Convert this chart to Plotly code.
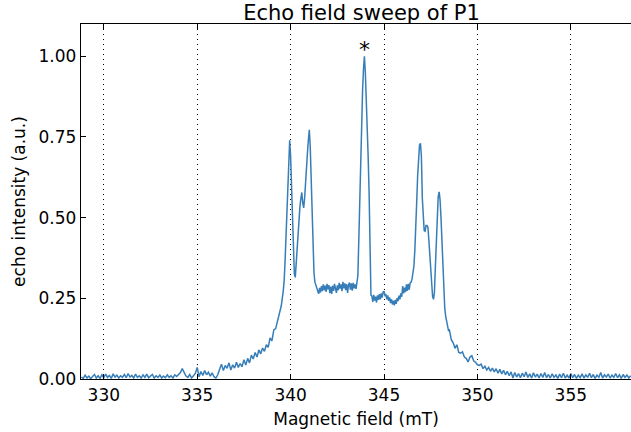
import plotly.graph_objects as go

# ---- data ----
field_mT = [
    328.8, 328.9, 329.0, 329.1, 329.2, 329.3, 329.4, 329.5, 329.6, 329.7,
    329.8, 329.9, 330.0, 330.1, 330.2, 330.3, 330.4, 330.5, 330.6, 330.7,
    330.8, 330.9, 331.0, 331.1, 331.2, 331.3, 331.4, 331.5, 331.6, 331.7,
    331.8, 331.9, 332.0, 332.1, 332.2, 332.3, 332.4, 332.5, 332.6, 332.7,
    332.8, 332.9, 333.0, 333.1, 333.2, 333.3, 333.4, 333.5, 333.6, 333.7,
    333.8, 333.9, 334.0, 334.1, 334.2, 334.3, 334.4, 334.5, 334.6, 334.7,
    334.8, 334.9, 335.0, 335.1, 335.2, 335.3, 335.4, 335.5, 335.6, 335.7,
    335.8, 335.9, 336.0, 336.1,
    336.2, 336.3, 336.4, 336.5, 336.6, 336.7, 336.8, 336.9, 337.0, 337.1,
    337.2, 337.3, 337.4, 337.5, 337.6, 337.7, 337.8, 337.9, 338.0, 338.1,
    338.2, 338.3, 338.4, 338.5, 338.6, 338.7, 338.8, 338.9, 339.0, 339.1,
    339.2, 339.3, 339.4, 339.5, 339.6,
    339.65, 339.7, 339.75, 339.8, 339.85, 339.9, 339.95, 340.0, 340.05, 340.1,
    340.15, 340.2, 340.25, 340.3, 340.35, 340.4, 340.45, 340.5, 340.55, 340.6,
    340.65, 340.7, 340.75, 340.8, 340.85, 340.9, 340.95, 341.0, 341.05, 341.1,
    341.15, 341.2, 341.25, 341.3,
    341.35, 341.4, 341.45, 341.5, 341.55, 341.6, 341.65, 341.7, 341.75, 341.8,
    341.85, 341.9, 341.95, 342.0, 342.05, 342.1, 342.15, 342.2, 342.25, 342.3,
    342.35, 342.4, 342.45, 342.5, 342.55, 342.6, 342.65, 342.7, 342.75, 342.8,
    342.85, 342.9, 342.95, 343.0, 343.05, 343.1, 343.15, 343.2, 343.25, 343.3,
    343.35, 343.4, 343.45, 343.5, 343.55,
    343.6, 343.65, 343.7, 343.75, 343.8, 343.85, 343.9, 343.95, 344.0, 344.05,
    344.1, 344.15, 344.2, 344.25, 344.3,
    344.35, 344.4, 344.45, 344.5, 344.55, 344.6, 344.65, 344.7, 344.75, 344.8,
    344.85, 344.9, 344.95, 345.0, 345.05, 345.1, 345.15, 345.2, 345.25, 345.3,
    345.35, 345.4, 345.45, 345.5, 345.55, 345.6, 345.65, 345.7, 345.75, 345.8,
    345.85, 345.9, 345.95, 346.0, 346.05, 346.1, 346.15, 346.2, 346.25, 346.3,
    346.35, 346.4, 346.45,
    346.5, 346.55, 346.6, 346.65, 346.7, 346.75, 346.8, 346.85, 346.9, 346.95,
    347.0, 347.05, 347.1, 347.15, 347.2, 347.25, 347.3, 347.35, 347.4, 347.45,
    347.5, 347.55, 347.6, 347.65, 347.7, 347.75, 347.8, 347.85, 347.9, 347.95,
    348.0, 348.05, 348.1, 348.15, 348.2, 348.25, 348.3, 348.35, 348.4, 348.45,
    348.5, 348.6, 348.7, 348.8, 348.9, 349.0, 349.1, 349.2, 349.3, 349.4,
    349.5, 349.6, 349.7, 349.8, 349.9, 350.0, 350.1, 350.2, 350.3, 350.4,
    350.5, 350.6, 350.7, 350.8, 350.9, 351.0, 351.1, 351.2, 351.3, 351.4,
    351.5, 351.6, 351.7, 351.8, 351.9, 352.0, 352.1, 352.2, 352.3, 352.4,
    352.5, 352.6, 352.7, 352.8, 352.9, 353.0, 353.1, 353.2, 353.3, 353.4,
    353.5, 353.6, 353.7, 353.8, 353.9, 354.0, 354.1, 354.2, 354.3, 354.4,
    354.5, 354.6, 354.7, 354.8, 354.9, 355.0, 355.1, 355.2, 355.3, 355.4,
    355.5, 355.6, 355.7, 355.8, 355.9, 356.0, 356.1, 356.2, 356.3, 356.4,
    356.5, 356.6, 356.7, 356.8, 356.9, 357.0, 357.1, 357.2, 357.3, 357.4,
    357.5, 357.6, 357.7, 357.8, 357.9, 358.0, 358.1, 358.2,
]

intensity = [
    0.006, 0.002, 0.012, 0.003, 0.009, 0.001, 0.008, 0.014, 0.003, 0.010,
    0.002, 0.013, 0.004, 0.015, 0.005, 0.011, 0.002, 0.016, 0.006, 0.012,
    0.003, 0.010, 0.005, 0.014, 0.004, 0.017, 0.006, 0.011, 0.003, 0.015,
    0.005, 0.010, 0.003, 0.013, 0.005, 0.015, 0.004, 0.009, 0.014, 0.003,
    0.010, 0.005, 0.012, 0.003, 0.009, 0.004, 0.013, 0.005, 0.010, 0.003,
    0.013, 0.008, 0.015, 0.020, 0.032, 0.018, 0.009, 0.005, 0.014, 0.003,
    0.010, 0.017, 0.036, 0.007, 0.023, 0.011, 0.026, 0.013, 0.021, 0.009,
    0.019, 0.007, 0.003, 0.013,
    0.030, 0.046, 0.026, 0.042, 0.033, 0.050, 0.028, 0.044, 0.034, 0.052,
    0.036, 0.048, 0.038, 0.060, 0.043, 0.064, 0.050, 0.074, 0.062, 0.082,
    0.068, 0.090, 0.078, 0.096, 0.086, 0.106, 0.098, 0.127, 0.118, 0.152,
    0.156, 0.182, 0.198, 0.227, 0.270,
    0.300, 0.360, 0.440, 0.520, 0.600, 0.680, 0.740, 0.690, 0.580, 0.480,
    0.390, 0.325, 0.315, 0.360, 0.420, 0.470, 0.510, 0.535, 0.560, 0.578,
    0.545, 0.530, 0.560, 0.620, 0.660, 0.700, 0.740, 0.772, 0.720, 0.620,
    0.510, 0.400, 0.330, 0.300,
    0.292, 0.278, 0.272, 0.264, 0.282, 0.268, 0.288, 0.272, 0.293, 0.275,
    0.289, 0.270, 0.295, 0.278, 0.291, 0.266, 0.286, 0.264, 0.289, 0.273,
    0.295, 0.277, 0.267, 0.290, 0.275, 0.298, 0.280, 0.293, 0.272, 0.301,
    0.281, 0.296, 0.275, 0.294, 0.267, 0.291, 0.299, 0.277, 0.296, 0.274,
    0.298, 0.281, 0.293, 0.279, 0.302,
    0.320, 0.430, 0.560, 0.690, 0.820, 0.890, 0.960, 1.000, 0.950, 0.880,
    0.790, 0.690, 0.580, 0.420, 0.260,
    0.257, 0.239, 0.261, 0.243, 0.255, 0.237, 0.259, 0.245, 0.263, 0.247,
    0.265, 0.252, 0.269, 0.272, 0.259, 0.261, 0.247, 0.259, 0.242, 0.253,
    0.235, 0.247, 0.231, 0.243, 0.228, 0.245, 0.233, 0.251, 0.241, 0.258,
    0.247, 0.265, 0.255, 0.288, 0.265, 0.283, 0.269, 0.293, 0.273, 0.295,
    0.277, 0.298, 0.300,
    0.310, 0.330, 0.350, 0.400, 0.460, 0.550, 0.630, 0.700, 0.725, 0.730,
    0.690, 0.560, 0.500, 0.460, 0.458, 0.476, 0.476, 0.470, 0.430, 0.390,
    0.340, 0.290, 0.255, 0.247, 0.270, 0.350, 0.430, 0.515, 0.565, 0.580,
    0.555, 0.500, 0.420, 0.340, 0.260, 0.220, 0.195, 0.175, 0.165, 0.150,
    0.152, 0.122, 0.112, 0.095, 0.106, 0.082, 0.080, 0.084, 0.068, 0.064,
    0.053, 0.068, 0.072, 0.056, 0.052, 0.044, 0.042, 0.046, 0.032, 0.040,
    0.028, 0.036, 0.024, 0.034, 0.022, 0.032, 0.018, 0.030, 0.016, 0.027,
    0.013, 0.024, 0.010, 0.022, 0.003, 0.020, 0.006, 0.017, 0.004, 0.018,
    0.007, 0.022, 0.005, 0.016, 0.003, 0.019, 0.006, 0.015, 0.003, 0.017,
    0.005, 0.020, 0.004, 0.014, 0.003, 0.016, 0.005, 0.013, 0.002, 0.015,
    0.004, 0.018, 0.003, 0.012, 0.003, 0.017, 0.004, 0.014, 0.002, 0.012,
    0.004, 0.016, 0.003, 0.013, 0.005, 0.018, 0.004, 0.014, 0.002, 0.012,
    0.005, 0.020, 0.003, 0.013, 0.006, 0.015, 0.003, 0.012, 0.005, 0.017,
    0.004, 0.013, 0.002, 0.014, 0.005, 0.012, 0.003, 0.010,
]

assert len(field_mT) == len(intensity)

x_ticks = [330, 335, 340, 345, 350, 355]
y_ticks = [0.00, 0.25, 0.50, 0.75, 1.00]
y_tick_labels = ["0.00", "0.25", "0.50", "0.75", "1.00"]
x_range = [328.78, 358.22]
y_range = [0.0, 1.1]
marked_peak = (343.95, 1.0)

FONT = "DejaVu Sans"

fig = go.Figure()
fig.add_trace(go.Scatter(
    x=field_mT, y=intensity, mode="lines",
    line=dict(color="#377eb8", width=1.5),
    showlegend=False, hoverinfo="skip",
))

fig.add_annotation(
    x=marked_peak[0], y=marked_peak[1], xref="x", yref="y",
    text="*", showarrow=False, yanchor="bottom", yshift=-8,
    font=dict(family=FONT, size=22, color="black"),
)

fig.update_layout(
    width=631, height=432,
    margin=dict(l=81, r=0, t=24, b=53),
    paper_bgcolor="white", plot_bgcolor="white",
    font=dict(family=FONT, size=17, color="black"),
    title=dict(
        text="Echo field sweep of P1",
        font=dict(family=FONT, size=21, color="black"),
        x=0.51, xref="paper", xanchor="center",
        y=1 - 13 / 432, yref="container", yanchor="middle",
    ),
)

fig.update_xaxes(
    range=x_range, tickvals=x_ticks, ticktext=[str(t) for t in x_ticks],
    ticks="inside", ticklen=5, tickwidth=1, tickcolor="black",
    showline=True, linecolor="black", linewidth=1.2, mirror="ticks",
    showgrid=True, gridcolor="black", gridwidth=1, griddash="1px,4px",
    zeroline=False,
    title=dict(text="Magnetic field (mT)", standoff=9,
               font=dict(family=FONT, size=17)),
    tickfont=dict(family=FONT, size=17),
)
fig.update_yaxes(
    range=y_range, tickvals=y_ticks, ticktext=y_tick_labels,
    ticks="inside", ticklen=5, tickwidth=1, tickcolor="black",
    showline=True, linecolor="black", linewidth=1.2, mirror=False,
    showgrid=False, zeroline=False,
    title=dict(text="echo intensity (a.u.)", standoff=8,
               font=dict(family=FONT, size=17)),
    tickfont=dict(family=FONT, size=17),
)

# remove the default page margin so the figure starts at the window corner
fig.write_html(
    "out.html",
    config={"displayModeBar": False, "staticPlot": True},
    post_script="document.body.style.margin='0';",
)
